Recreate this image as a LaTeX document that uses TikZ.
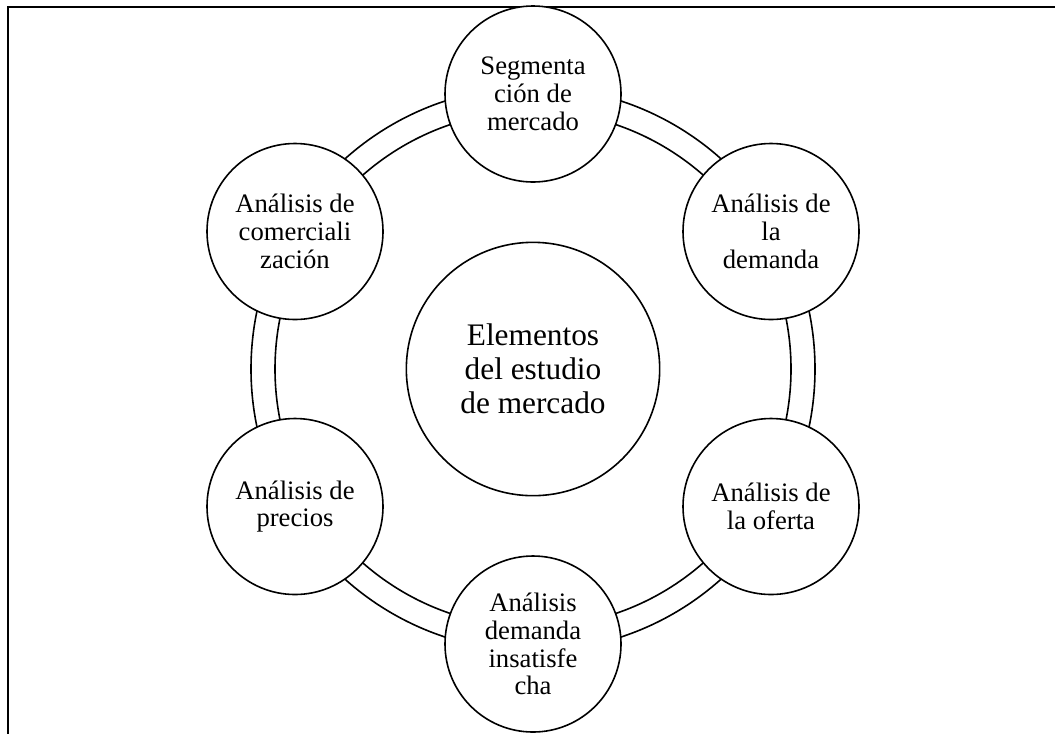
\documentclass[tikz,border=0pt]{standalone}
\usepackage{fontspec}
\setmainfont{Liberation Serif}
\begin{document}
\begin{tikzpicture}[x=0.75pt,y=-0.75pt,line width=1.2pt,
  smallc/.style={circle,draw,fill=white,inner sep=0pt,minimum size=132pt,align=center,
    font=\fontsize{20}{20.8}\selectfont},
  bigc/.style={circle,draw,fill=white,inner sep=0pt,minimum size=190pt,align=center,
    font=\fontsize{23.5}{25.5}\selectfont},
  ring/.style={draw,line width=1.2pt}]
\useasboundingbox (0,0) rectangle (1055,733);
% frame (cropped: only left and top edges visible)
\coordinate (fbl) at (8,734);
\coordinate (ftl) at (8,7);
\coordinate (ftr) at (1056,7);
\draw[line width=1.5pt] (fbl) -- (ftl) -- (ftr);
% centre
\node[bigc] (c) at (533,369) {Elementos\\del estudio\\de mercado};
% double ring
\draw[ring] (c.center) circle[radius=193.5pt];
\draw[ring] (c.center) circle[radius=211.5pt];
% outer circles
\node[smallc] (seg) at (533,94) {Segmenta\\ción de\\mercado};
\node[smallc] (dem) at (771,231.5) {Análisis de\\la\\demanda};
\node[smallc] (ofe) at (771,506.5) {Análisis de\\la oferta};
\node[smallc] (ins) at (533,644) {Análisis\\demanda\\insatisfe\\cha};
\node[smallc] (pre) at (295,506.5) {Análisis de\\precios};
\node[smallc] (com) at (295,231.5) {Análisis de\\comerciali\\zación};
\end{tikzpicture}
\end{document}
